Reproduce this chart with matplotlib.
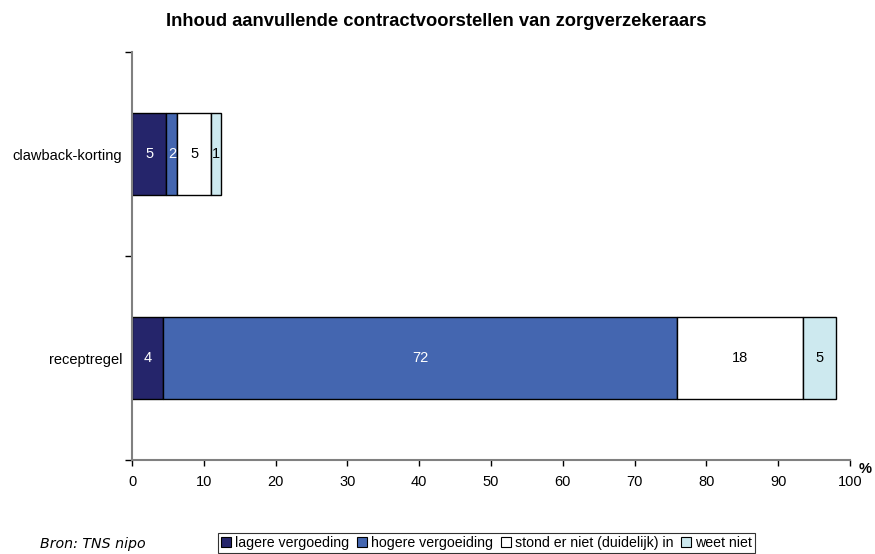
import matplotlib
matplotlib.use("Agg")
import matplotlib.pyplot as plt
import numpy as np
from matplotlib.patches import Patch

categories = ["receptregel", "clawback-korting"]
series_names = ["lagere vergoeding", "hogere vergoeiding", "stond er niet (duidelijk) in", "weet niet"]
lagere = [4.3, 4.8]
hogere = [71.6, 1.5]
stond = [17.5, 4.7]
weet = [4.7, 1.4]
xticks = [0, 10, 20, 30, 40, 50, 60, 70, 80, 90, 100]

colors = ["#25256b", "#4466b0", "#ffffff", "#cde9ef"]
text_colors = ["white", "white", "black", "black"]

plt.rcParams['font.family'] = ['Liberation Sans', 'DejaVu Sans']

fig = plt.figure(figsize=(8.75, 5.54), dpi=100)
ax = fig.add_axes([0.1509, 0.1697, 0.9714 - 0.1509, 0.906 - 0.1697])

y = np.arange(len(categories))
left = np.zeros(len(categories))
for vals, c, tc in zip([lagere, hogere, stond, weet], colors, text_colors):
    vals = np.array(vals)
    ax.barh(y, vals, left=left, height=0.4, color=c, edgecolor="black", linewidth=1.0)
    for xi, yi, v in zip(left, y, vals):
        ax.text(xi + v / 2, yi, f"{v:.0f}", ha="center", va="center", color=tc, fontsize=10.5)
    left = left + vals

ax.set_xlim(0, 100)
ax.set_ylim(-0.5, 1.5)
ax.set_xticks(xticks)
ax.set_xticklabels([str(t) for t in xticks], fontsize=10.5)
ax.set_yticks(y)
ax.set_yticklabels(categories, fontsize=10.5)
ax.tick_params(axis="y", which="major", length=0, pad=7)
ax.set_yticks([-0.5, 0.5, 1.5], minor=True)
ax.tick_params(axis="y", which="minor", length=5, width=1, color="black")
ax.tick_params(axis="x", length=4, width=1, color="black", pad=7)
for s in ["top", "right"]:
    ax.spines[s].set_visible(False)
for s in ["left", "bottom"]:
    ax.spines[s].set_color("#808080")
    ax.spines[s].set_linewidth(1.5)

fig.text(859 / 875, 1 - 469 / 554, "%", fontsize=10.5, fontweight="bold", ha="left", va="center")

fig.text(436 / 875, 1 - 22 / 554, "Inhoud aanvullende contractvoorstellen van zorgverzekeraars",
         fontsize=13.2, fontweight="bold", ha="center", va="center")

fig.text(40 / 875, 1 - 544 / 554, "Bron: TNS nipo", fontsize=10.2, style="italic",
         family="DejaVu Sans", ha="left", va="center")

handles = [Patch(facecolor=c, edgecolor="black", linewidth=0.8) for c in colors]
leg = fig.legend(handles, series_names, loc="upper left", bbox_to_anchor=(218 / 875, 1 - 533 / 554),
                 ncol=4, fontsize=10.2, frameon=True, fancybox=False, handlelength=0.7, handleheight=0.7,
                 handletextpad=0.3, columnspacing=0.55, borderpad=0.2, borderaxespad=0)
leg.get_frame().set_edgecolor("black")
leg.get_frame().set_linewidth(0.8)

fig.savefig("out.png", dpi=100)
